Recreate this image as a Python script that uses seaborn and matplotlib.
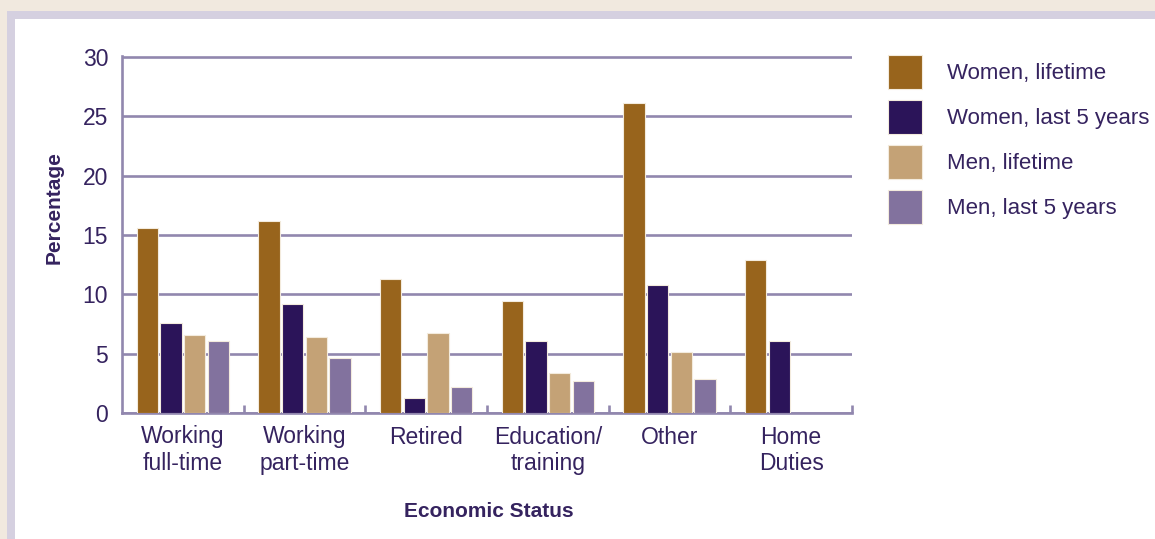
import numpy as np
import pandas as pd
import matplotlib.pyplot as plt
import seaborn as sns
from matplotlib.patches import Patch, Rectangle
from matplotlib.ticker import MultipleLocator

categories = ['Working\nfull-time', 'Working\npart-time', 'Retired',
              'Education/\ntraining', 'Other', 'Home\nDuties']
series = ['Women, lifetime', 'Women, last 5 years', 'Men, lifetime', 'Men, last 5 years']
women_lifetime = [15.6, 16.2, 11.3, 9.4, 26.1, 12.9]
women_last5 = [7.6, 9.2, 1.3, 6.1, 10.8, 6.1]
men_lifetime = [6.6, 6.4, 6.7, 3.4, 5.1, np.nan]
men_last5 = [6.1, 4.6, 2.2, 2.7, 2.9, np.nan]
colors = ['#98641C', '#2B1459', '#C4A276', '#82729E']

df = pd.DataFrame({
    'status': categories * 4,
    'series': np.repeat(series, len(categories)),
    'value': women_lifetime + women_last5 + men_lifetime + men_last5,
}).dropna()

sns.set_theme(style='white')
plt.rcParams['font.family'] = ['Liberation Sans', 'DejaVu Sans']
txt = '#35235F'
line = '#9187AE'

fig = plt.figure(figsize=(11.55, 5.39), dpi=100, facecolor='#F1E9DF')
fig.add_artist(Rectangle((7 / 1155, 0), 1.1, 1 - 11 / 539, transform=fig.transFigure,
                         facecolor='#D5D0E0', edgecolor='none', zorder=-5))
fig.add_artist(Rectangle((15 / 1155, 0), 1.1, 1 - 19 / 539, transform=fig.transFigure,
                         facecolor='white', edgecolor='none', zorder=-4))

ax = fig.add_axes([122 / 1155, 1 - 413 / 539, 730 / 1155, 357 / 539])
ax.set_facecolor('none')

sns.barplot(data=df, x='status', y='value', hue='series', order=categories,
            hue_order=series, palette=colors, saturation=1, width=0.78, gap=0.1,
            edgecolor='#F3EBDD', linewidth=0.8, ax=ax, legend=False, zorder=3)

ax.set_xlim(-0.5, 5.5)
ax.set_ylim(0, 30.08)
ax.yaxis.set_major_locator(MultipleLocator(5))
ax.set_axisbelow(True)
ax.grid(axis='y', color=line, linewidth=1.9)
ax.grid(axis='x', visible=False)
for s in ['top', 'right']:
    ax.spines[s].set_visible(False)
for s in ['left', 'bottom']:
    ax.spines[s].set_color(line)
    ax.spines[s].set_linewidth(1.9)

ax.set_xticks(np.arange(0.5, 6, 1), minor=True)
ax.tick_params(axis='x', which='minor', direction='in', length=6, width=1.9, color=line, bottom=True)
ax.tick_params(axis='x', which='major', length=0, pad=9, labelsize=16.5, labelcolor=txt)
ax.tick_params(axis='y', length=0, pad=10, labelsize=16.5, labelcolor=txt)

ax.set_xlabel('Economic Status', fontsize=15, fontweight='bold', color=txt)
ax.set_ylabel('Percentage', fontsize=15, fontweight='bold', color=txt)
ax.xaxis.set_label_coords(0.503, -0.25)
ax.yaxis.set_label_coords(-0.08, 0.575)

handles = [Patch(facecolor=c, edgecolor='#F3EBDD', linewidth=0.8) for c in colors]
ax.legend(handles, series, loc='upper left', bbox_to_anchor=(888 / 1155, 1 - 55 / 539),
          bbox_transform=fig.transFigure, frameon=False, fontsize=16, labelcolor=txt,
          handlelength=1.55, handleheight=1.95, labelspacing=0.52, handletextpad=1.1,
          borderpad=0, borderaxespad=0)

fig.savefig('out.png', dpi=100, facecolor=fig.get_facecolor())
